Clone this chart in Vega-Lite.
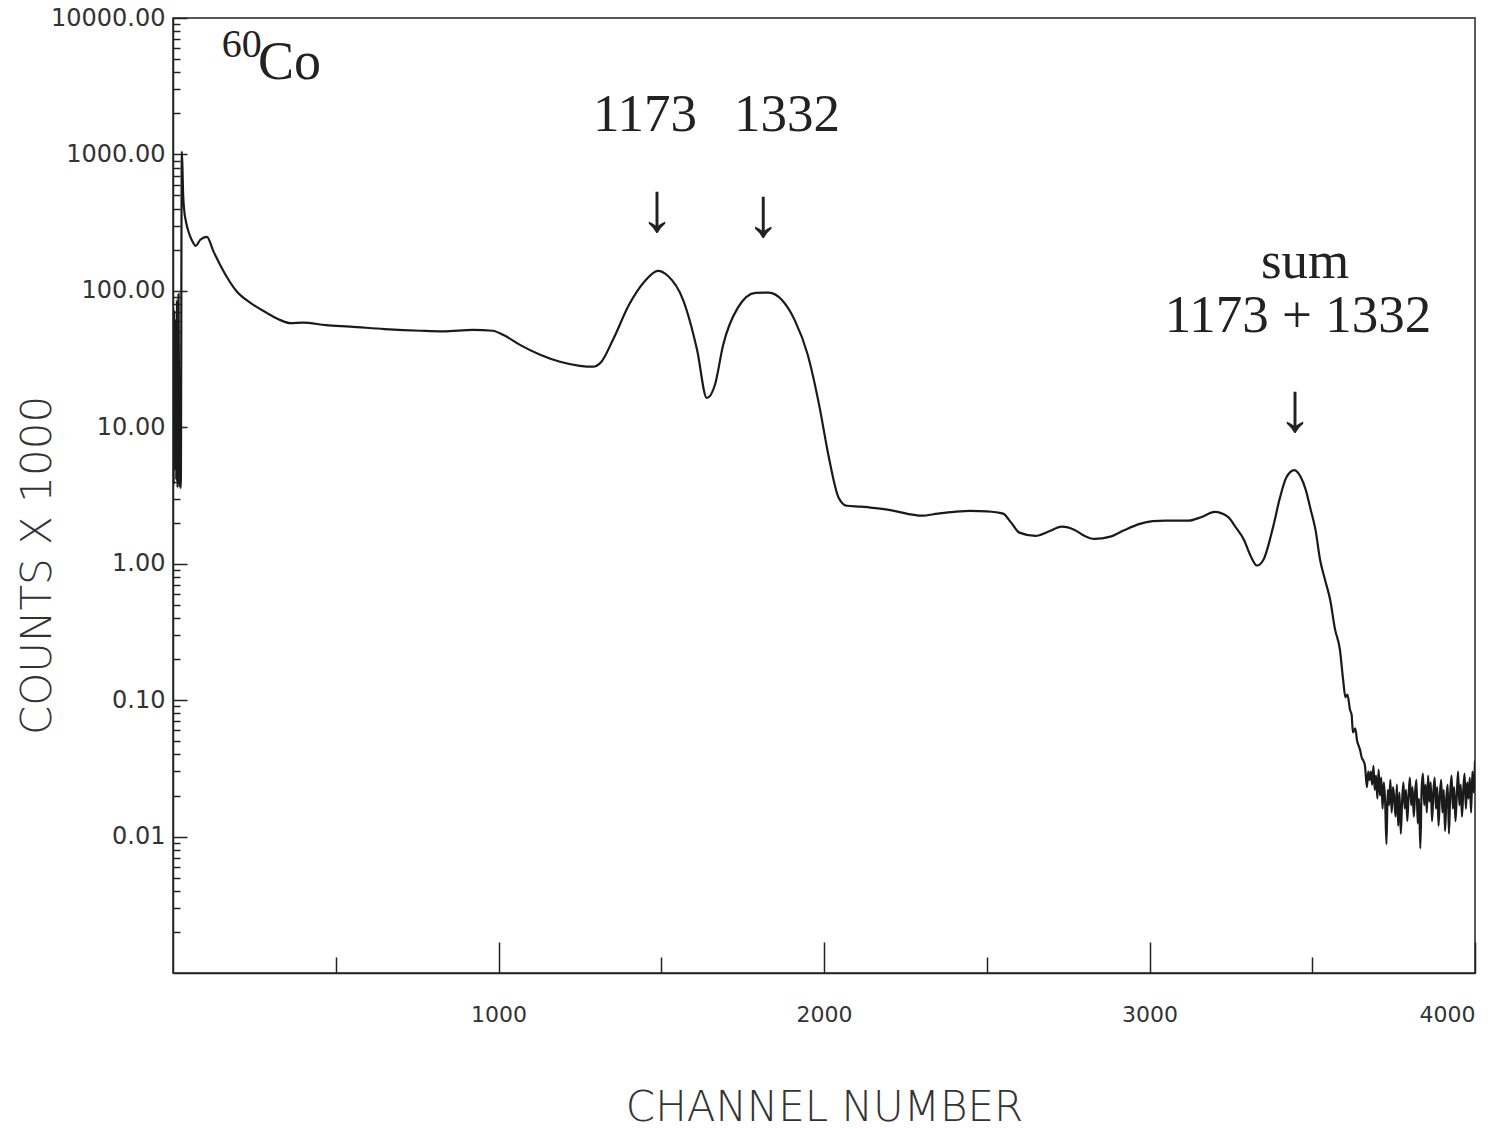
{
  "$schema": "https://vega.github.io/schema/vega-lite/v6.json",
  "width": 1302,
  "height": 955,
  "autosize": {"type": "none"},
  "padding": {"left": 173, "top": 18, "right": 20, "bottom": 156},
  "background": "white",
  "config": {
    "view": {"stroke": "#222", "strokeWidth": 1.5},
    "axis": {
      "grid": false,
      "domainColor": "#222",
      "domainWidth": 1.5,
      "tickColor": "#222",
      "tickWidth": 1.5,
      "labelFont": "DejaVu Sans",
      "labelColor": "#333",
      "titleFont": "DejaVu Sans",
      "titleColor": "#333",
      "titleFontWeight": 200
    }
  },
  "datasets": {
    "spectrum": [
      {"ch": 0, "counts": 52}, {"ch": 2, "counts": 3.8}, {"ch": 4, "counts": 72}, {"ch": 6, "counts": 4.9},
      {"ch": 8, "counts": 61}, {"ch": 10, "counts": 4.1}, {"ch": 12, "counts": 86}, {"ch": 14, "counts": 3.6},
      {"ch": 17, "counts": 95}, {"ch": 20, "counts": 4.0}, {"ch": 24, "counts": 3.6}, {"ch": 27, "counts": 1050},
      {"ch": 29, "counts": 800}, {"ch": 31, "counts": 520}, {"ch": 34, "counts": 400}, {"ch": 40, "counts": 320},
      {"ch": 48, "counts": 270}, {"ch": 58, "counts": 235}, {"ch": 70, "counts": 214}, {"ch": 84, "counts": 237},
      {"ch": 104, "counts": 249}, {"ch": 125, "counts": 193}, {"ch": 145, "counts": 155}, {"ch": 165, "counts": 127},
      {"ch": 196, "counts": 99}, {"ch": 237, "counts": 82}, {"ch": 288, "counts": 69}, {"ch": 330, "counts": 61},
      {"ch": 360, "counts": 58}, {"ch": 400, "counts": 58.5}, {"ch": 470, "counts": 56}, {"ch": 544, "counts": 54.7},
      {"ch": 650, "counts": 52.5}, {"ch": 762, "counts": 51}, {"ch": 830, "counts": 50.5}, {"ch": 922, "counts": 51.8},
      {"ch": 982, "counts": 51}, {"ch": 1020, "counts": 46.8}, {"ch": 1066, "counts": 40.2}, {"ch": 1128, "counts": 34},
      {"ch": 1189, "counts": 30.2}, {"ch": 1250, "counts": 28.2}, {"ch": 1290, "counts": 27.8}, {"ch": 1315, "counts": 30},
      {"ch": 1352, "counts": 44}, {"ch": 1401, "counts": 79}, {"ch": 1450, "counts": 118}, {"ch": 1490, "counts": 140},
      {"ch": 1520, "counts": 129}, {"ch": 1567, "counts": 86}, {"ch": 1610, "counts": 37}, {"ch": 1640, "counts": 16.4},
      {"ch": 1665, "counts": 20.5}, {"ch": 1690, "counts": 40}, {"ch": 1735, "counts": 75}, {"ch": 1790, "counts": 96.7},
      {"ch": 1830, "counts": 97}, {"ch": 1870, "counts": 86}, {"ch": 1910, "counts": 61}, {"ch": 1950, "counts": 34},
      {"ch": 1985, "counts": 14.6}, {"ch": 2015, "counts": 6}, {"ch": 2045, "counts": 3.05}, {"ch": 2070, "counts": 2.66},
      {"ch": 2110, "counts": 2.62}, {"ch": 2150, "counts": 2.57}, {"ch": 2190, "counts": 2.5}, {"ch": 2230, "counts": 2.4},
      {"ch": 2265, "counts": 2.3}, {"ch": 2300, "counts": 2.25}, {"ch": 2350, "counts": 2.33}, {"ch": 2400, "counts": 2.4},
      {"ch": 2450, "counts": 2.44}, {"ch": 2500, "counts": 2.42}, {"ch": 2550, "counts": 2.33}, {"ch": 2575, "counts": 2.0},
      {"ch": 2600, "counts": 1.69}, {"ch": 2650, "counts": 1.6}, {"ch": 2690, "counts": 1.72}, {"ch": 2730, "counts": 1.87},
      {"ch": 2770, "counts": 1.77}, {"ch": 2800, "counts": 1.6}, {"ch": 2830, "counts": 1.52}, {"ch": 2880, "counts": 1.58},
      {"ch": 2920, "counts": 1.75}, {"ch": 2970, "counts": 1.96}, {"ch": 3010, "counts": 2.05}, {"ch": 3050, "counts": 2.07},
      {"ch": 3120, "counts": 2.07}, {"ch": 3160, "counts": 2.2}, {"ch": 3200, "counts": 2.4}, {"ch": 3240, "counts": 2.21},
      {"ch": 3265, "counts": 1.85}, {"ch": 3290, "counts": 1.5}, {"ch": 3310, "counts": 1.15}, {"ch": 3330, "counts": 0.97},
      {"ch": 3350, "counts": 1.07}, {"ch": 3380, "counts": 1.87}, {"ch": 3400, "counts": 3.0}, {"ch": 3420, "counts": 4.27},
      {"ch": 3445, "counts": 4.85}, {"ch": 3465, "counts": 4.3}, {"ch": 3480, "counts": 3.48}, {"ch": 3495, "counts": 2.5},
      {"ch": 3510, "counts": 1.77}, {"ch": 3524, "counts": 1.07}, {"ch": 3540, "counts": 0.75}, {"ch": 3555, "counts": 0.545},
      {"ch": 3570, "counts": 0.33}, {"ch": 3585, "counts": 0.234}, {"ch": 3595, "counts": 0.14}, {"ch": 3602, "counts": 0.105},
      {"ch": 3608, "counts": 0.11}, {"ch": 3616, "counts": 0.085}, {"ch": 3621, "counts": 0.078}, {"ch": 3625, "counts": 0.058},
      {"ch": 3632, "counts": 0.062}, {"ch": 3638, "counts": 0.05}, {"ch": 3643, "counts": 0.046}, {"ch": 3647, "counts": 0.043},
      {"ch": 3652, "counts": 0.038}, {"ch": 3657, "counts": 0.036}, {"ch": 3662, "counts": 0.033}, {"ch": 3668, "counts": 0.023},
      {"ch": 3672, "counts": 0.03}, {"ch": 3676, "counts": 0.026},
      {"ch": 3680, "counts": 0.030}, {"ch": 3684, "counts": 0.024}, {"ch": 3688, "counts": 0.033}, {"ch": 3692, "counts": 0.022},
      {"ch": 3696, "counts": 0.028}, {"ch": 3700, "counts": 0.019}, {"ch": 3704, "counts": 0.031}, {"ch": 3708, "counts": 0.020},
      {"ch": 3712, "counts": 0.027}, {"ch": 3716, "counts": 0.016}, {"ch": 3720, "counts": 0.025}, {"ch": 3724, "counts": 0.018},
      {"ch": 3728, "counts": 0.0088}, {"ch": 3732, "counts": 0.022}, {"ch": 3736, "counts": 0.017}, {"ch": 3740, "counts": 0.026},
      {"ch": 3744, "counts": 0.015}, {"ch": 3748, "counts": 0.023}, {"ch": 3752, "counts": 0.019}, {"ch": 3756, "counts": 0.014},
      {"ch": 3760, "counts": 0.024}, {"ch": 3764, "counts": 0.012}, {"ch": 3768, "counts": 0.021}, {"ch": 3772, "counts": 0.0105},
      {"ch": 3776, "counts": 0.018}, {"ch": 3780, "counts": 0.025}, {"ch": 3784, "counts": 0.016}, {"ch": 3788, "counts": 0.022},
      {"ch": 3792, "counts": 0.013}, {"ch": 3796, "counts": 0.020}, {"ch": 3800, "counts": 0.027}, {"ch": 3804, "counts": 0.017},
      {"ch": 3808, "counts": 0.023}, {"ch": 3812, "counts": 0.014}, {"ch": 3816, "counts": 0.021}, {"ch": 3820, "counts": 0.026},
      {"ch": 3824, "counts": 0.0125}, {"ch": 3828, "counts": 0.019}, {"ch": 3832, "counts": 0.0082}, {"ch": 3836, "counts": 0.022},
      {"ch": 3840, "counts": 0.029}, {"ch": 3844, "counts": 0.017}, {"ch": 3848, "counts": 0.024}, {"ch": 3852, "counts": 0.015},
      {"ch": 3856, "counts": 0.028}, {"ch": 3860, "counts": 0.018}, {"ch": 3864, "counts": 0.025}, {"ch": 3868, "counts": 0.013},
      {"ch": 3872, "counts": 0.021}, {"ch": 3876, "counts": 0.027}, {"ch": 3880, "counts": 0.016}, {"ch": 3884, "counts": 0.023},
      {"ch": 3888, "counts": 0.012}, {"ch": 3892, "counts": 0.020}, {"ch": 3896, "counts": 0.026}, {"ch": 3900, "counts": 0.015},
      {"ch": 3904, "counts": 0.022}, {"ch": 3908, "counts": 0.011}, {"ch": 3912, "counts": 0.019}, {"ch": 3916, "counts": 0.024},
      {"ch": 3920, "counts": 0.0105}, {"ch": 3924, "counts": 0.021}, {"ch": 3928, "counts": 0.028}, {"ch": 3932, "counts": 0.016},
      {"ch": 3936, "counts": 0.023}, {"ch": 3940, "counts": 0.013}, {"ch": 3944, "counts": 0.020}, {"ch": 3948, "counts": 0.030},
      {"ch": 3952, "counts": 0.017}, {"ch": 3956, "counts": 0.024}, {"ch": 3960, "counts": 0.014}, {"ch": 3964, "counts": 0.022},
      {"ch": 3968, "counts": 0.029}, {"ch": 3972, "counts": 0.016}, {"ch": 3976, "counts": 0.025}, {"ch": 3980, "counts": 0.019},
      {"ch": 3984, "counts": 0.027}, {"ch": 3988, "counts": 0.015}, {"ch": 3992, "counts": 0.030}, {"ch": 3996, "counts": 0.021},
      {"ch": 4000, "counts": 0.036}
    ]
  },
  "layer": [
    {
      "data": {"name": "spectrum"},
      "mark": {"type": "line", "color": "#1a1a1a", "strokeWidth": 2.2, "clip": true, "interpolate": "monotone"},
      "encoding": {
        "x": {
          "field": "ch", "type": "quantitative",
          "scale": {"domain": [0, 4000], "nice": false, "zero": false},
          "axis": {
            "values": [500, 1000, 1500, 2000, 2500, 3000, 3500, 4000],
            "labelExpr": "datum.value % 1000 === 0 ? format(datum.value, 'd') : ''",
            "tickSize": {"condition": {"test": "datum.value % 1000 === 0", "value": -31}, "value": -16},
            "labelPadding": 62,
            "labelFontSize": 22,
            "labelFlush": true,
            "title": "CHANNEL NUMBER",
            "titleFontSize": 42,
            "titlePadding": 62
          }
        },
        "y": {
          "field": "counts", "type": "quantitative",
          "scale": {"type": "log", "domain": [0.001, 10000], "nice": false},
          "axis": {
            "values": [0.002, 0.003, 0.004, 0.005, 0.006, 0.007, 0.008, 0.009,
                       0.01, 0.02, 0.03, 0.04, 0.05, 0.06, 0.07, 0.08, 0.09,
                       0.1, 0.2, 0.3, 0.4, 0.5, 0.6, 0.7, 0.8, 0.9,
                       1, 2, 3, 4, 5, 6, 7, 8, 9,
                       10, 20, 30, 40, 50, 60, 70, 80, 90,
                       100, 200, 300, 400, 500, 600, 700, 800, 900,
                       1000, 2000, 3000, 4000, 5000, 6000, 7000, 8000, 9000, 10000],
            "labelExpr": "abs(log(datum.value)/LN10 - round(log(datum.value)/LN10)) < 0.01 ? format(datum.value, '.2f') : ''",
            "tickSize": {"condition": {"test": "abs(log(datum.value)/LN10 - round(log(datum.value)/LN10)) < 0.01", "value": -14}, "value": -7},
            "labelPadding": 22,
            "labelFontSize": 24,
            "title": "COUNTS X 1000",
            "titleFontSize": 42,
            "titleX": -114,
            "titleY": 547,
            "titleAngle": -90
          }
        }
      }
    },
    {
      "data": {"values": [
        {"ch": 1450, "counts": 1950, "t": "1173"},
        {"ch": 1886, "counts": 1950, "t": "1332"},
        {"ch": 3478, "counts": 163, "t": "sum"},
        {"ch": 3456, "counts": 65.6, "t": "1173 + 1332"}
      ]},
      "mark": {"type": "text", "font": "Liberation Serif", "fontSize": 53, "color": "#222", "align": "center", "baseline": "middle"},
      "encoding": {
        "x": {"field": "ch", "type": "quantitative"},
        "y": {"field": "counts", "type": "quantitative"},
        "text": {"field": "t"}
      }
    },
    {
      "data": {"values": [
        {"ch": 1487, "counts": 392, "t": "↓"},
        {"ch": 1813, "counts": 360, "t": "↓"},
        {"ch": 3447, "counts": 13.4, "t": "↓"}
      ]},
      "mark": {"type": "text", "font": "Liberation Serif", "fontSize": 70, "color": "#222", "align": "center", "baseline": "middle"},
      "encoding": {
        "x": {"field": "ch", "type": "quantitative"},
        "y": {"field": "counts", "type": "quantitative"},
        "text": {"field": "t"}
      }
    },
    {
      "data": {"values": [{"ch": 150, "counts": 6300, "t": "60"}]},
      "mark": {"type": "text", "font": "Liberation Serif", "fontSize": 40, "color": "#222", "align": "left", "baseline": "middle"},
      "encoding": {
        "x": {"field": "ch", "type": "quantitative"},
        "y": {"field": "counts", "type": "quantitative"},
        "text": {"field": "t"}
      }
    },
    {
      "data": {"values": [{"ch": 261, "counts": 4700, "t": "Co"}]},
      "mark": {"type": "text", "font": "Liberation Serif", "fontSize": 54, "color": "#222", "align": "left", "baseline": "middle"},
      "encoding": {
        "x": {"field": "ch", "type": "quantitative"},
        "y": {"field": "counts", "type": "quantitative"},
        "text": {"field": "t"}
      }
    }
  ]
}
